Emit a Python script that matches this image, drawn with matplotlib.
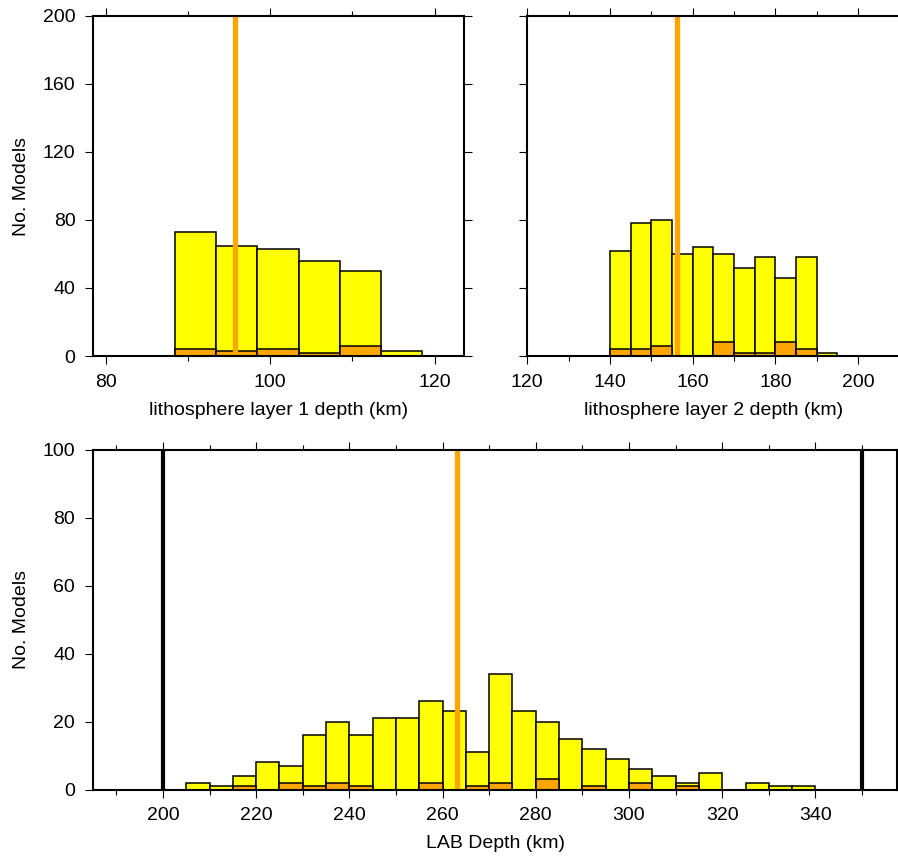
import matplotlib
matplotlib.use("Agg")
import matplotlib.pyplot as plt
import numpy as np
from matplotlib.ticker import MultipleLocator

plt.rcParams['font.family'] = ['Liberation Sans', 'DejaVu Sans']

# ---- data ----
# layer 1 depth histogram
l1_left_edges = [88.45, 93.45, 98.45, 103.45, 108.45, 113.45]
l1_counts = [73, 65, 63, 56, 50, 3]
l1_sub_counts = [4, 3, 4, 2, 6, 0]
l1_bin_width = 5
l1_best = 95.7

# layer 2 depth histogram
l2_left_edges = [140, 145, 150, 155, 160, 165, 170, 175, 180, 185, 190]
l2_counts = [62, 78, 80, 60, 64, 60, 52, 58, 46, 58, 2]
l2_sub_counts = [4, 4, 6, 0, 0, 8, 2, 2, 8, 4, 0]
l2_bin_width = 5
l2_best = 156.1

# LAB depth histogram
lab_left_edges = [205, 210, 215, 220, 225, 230, 235, 240, 245, 250, 255, 260, 265,
                  270, 275, 280, 285, 290, 295, 300, 305, 310, 315, 320, 325, 330, 335]
lab_counts = [2, 1, 4, 8, 7, 16, 20, 16, 21, 21, 26, 23, 11,
              34, 23, 20, 15, 12, 9, 6, 4, 2, 5, 0, 2, 1, 1]
lab_sub_counts = [0, 0, 1, 0, 2, 1, 2, 1, 0, 0, 2, 0, 1,
                  2, 0, 3, 0, 1, 0, 2, 0, 1, 0, 0, 0, 0, 0]
lab_bin_width = 5
lab_best = 263.2
lab_bounds = [200, 350]

YELLOW = '#FFFF00'
ORANGE = '#FFA500'

fig = plt.figure(figsize=(8.98, 8.59), dpi=100)

W, H = 898.0, 859.0
def axes_px(x0, x1, ytop, ybot):
    return fig.add_axes([x0 / W, 1 - ybot / H, (x1 - x0) / W, (ybot - ytop) / H])

ax1 = axes_px(93.3, 464.3, 16, 356)
ax2 = axes_px(527.3, 899.5, 16, 356)
ax3 = axes_px(93.0, 897.0, 450, 789.5)

FS = 14

def style(ax, xmaj, xmin, ymaj, ylabels=True, top=True):
    ax.xaxis.set_major_locator(MultipleLocator(xmaj))
    ax.xaxis.set_minor_locator(MultipleLocator(xmin))
    ax.yaxis.set_major_locator(MultipleLocator(ymaj))
    ax.tick_params(axis='both', which='major', direction='out', length=5.8, width=0.8,
                   labelsize=FS, top=top, right=True, pad=7)
    ax.tick_params(axis='both', which='minor', direction='out', length=3.4, width=0.8,
                   top=top, right=True)
    ax.tick_params(axis='x', labeltop=False)
    ax.tick_params(axis='y', labelright=False, labelleft=ylabels)
    for s in ax.spines.values():
        s.set_linewidth(1.5)
        s.set_zorder(5)

def draw_hist(ax, edges, counts, sub, width):
    ax.bar(edges, counts, width=width, align='edge', color=YELLOW,
           edgecolor='black', linewidth=1.1, zorder=2)
    ax.bar(edges, sub, width=width, align='edge', color=ORANGE,
           edgecolor='black', linewidth=1.1, zorder=3)

# top-left
draw_hist(ax1, l1_left_edges, l1_counts, l1_sub_counts, l1_bin_width)
ax1.axvline(l1_best, color=ORANGE, linewidth=3.8, zorder=4)
ax1.set_xlim(78.5, 123.6)
ax1.set_ylim(0, 200)
style(ax1, 20, 10, 40)
ax1.set_xlabel('lithosphere layer 1 depth (km)', fontsize=FS, labelpad=8)
ax1.set_ylabel('No. Models', fontsize=FS, labelpad=9)

# top-right
draw_hist(ax2, l2_left_edges, l2_counts, l2_sub_counts, l2_bin_width)
ax2.axvline(l2_best, color=ORANGE, linewidth=3.8, zorder=4)
ax2.set_xlim(120, 210)
ax2.set_ylim(0, 200)
style(ax2, 20, 10, 40, ylabels=False)
ax2.set_xlabel('lithosphere layer 2 depth (km)', fontsize=FS, labelpad=8)

# bottom
draw_hist(ax3, lab_left_edges, lab_counts, lab_sub_counts, lab_bin_width)
for b in lab_bounds:
    ax3.axvline(b, color='black', linewidth=3.0, zorder=4)
ax3.axvline(lab_best, color=ORANGE, linewidth=3.8, zorder=4)
ax3.set_xlim(185, 357.5)
ax3.set_ylim(0, 100)
style(ax3, 20, 10, 20)
ax3.set_xlabel('LAB Depth (km)', fontsize=FS, labelpad=8)
ax3.set_ylabel('No. Models', fontsize=FS, labelpad=9)

fig.savefig('out.png', dpi=100)
